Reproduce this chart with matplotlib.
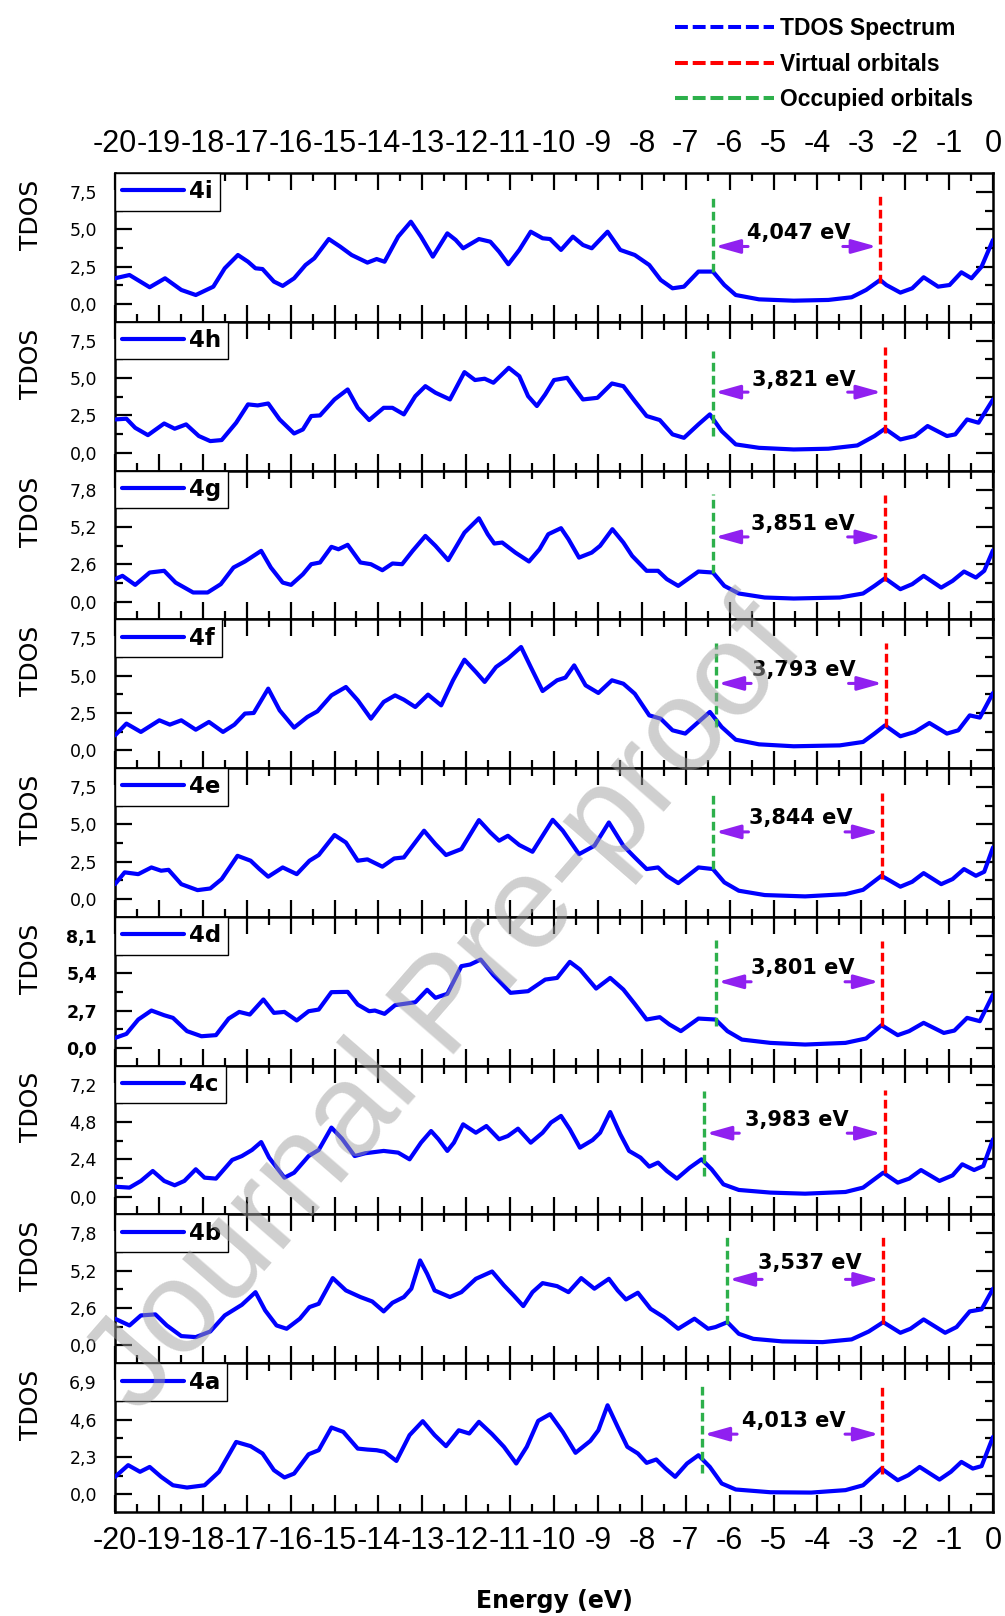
import matplotlib
matplotlib.use('Agg')
import matplotlib.pyplot as plt
from matplotlib.lines import Line2D
import numpy as np

plt.rcParams['axes.unicode_minus'] = False
plt.rcParams['font.family'] = 'DejaVu Sans'

# panel names, top to bottom
names = ['4i', '4h', '4g', '4f', '4e', '4d', '4c', '4b', '4a']
# major y tick step of each panel
steps = [2.5, 2.5, 2.6, 2.5, 2.5, 2.7, 2.4, 2.6, 2.3]
gap_labels = ['4,047 eV', '3,821 eV', '3,851 eV', '3,793 eV', '3,844 eV',
              '3,801 eV', '3,983 eV', '3,537 eV', '4,013 eV']

# (energy eV, TDOS)
curve_4i = [(-20, 1.72), (-19.67, 1.94), (-19.21, 1.12), (-18.86, 1.72), (-18.49, 0.94), (-18.16, 0.60),
            (-17.76, 1.16), (-17.5, 2.39), (-17.2, 3.28), (-16.97, 2.83), (-16.8, 2.39), (-16.64, 2.34),
            (-16.38, 1.50), (-16.18, 1.21), (-15.92, 1.72), (-15.66, 2.61), (-15.46, 3.06), (-15.13, 4.35),
            (-14.87, 3.84), (-14.61, 3.28), (-14.25, 2.77), (-14.04, 3.01), (-13.86, 2.83), (-13.55, 4.51),
            (-13.26, 5.51), (-13.03, 4.51), (-12.76, 3.17), (-12.43, 4.73), (-12.24, 4.29), (-12.07, 3.73),
            (-11.71, 4.35), (-11.45, 4.17), (-11.25, 3.50), (-11.04, 2.66), (-10.79, 3.62), (-10.53, 4.84),
            (-10.26, 4.40), (-10.09, 4.35), (-9.84, 3.62), (-9.57, 4.51), (-9.34, 3.95), (-9.14, 3.73),
            (-8.78, 4.84), (-8.49, 3.62), (-8.16, 3.28), (-7.83, 2.61), (-7.57, 1.61), (-7.30, 1.05),
            (-7.04, 1.16), (-6.71, 2.17), (-6.38, 2.17), (-6.12, 1.27), (-5.86, 0.60), (-5.33, 0.31),
            (-4.54, 0.22), (-3.75, 0.27), (-3.22, 0.45), (-2.89, 0.94), (-2.57, 1.61), (-2.43, 1.27),
            (-2.11, 0.76), (-1.84, 1.05), (-1.58, 1.79), (-1.25, 1.16), (-0.99, 1.27), (-0.72, 2.12),
            (-0.49, 1.72), (-0.26, 2.50), (0.0, 4.29)]
curve_4h = [(-20, 2.23), (-19.74, 2.28), (-19.54, 1.67), (-19.25, 1.18), (-18.88, 1.96), (-18.64, 1.61),
            (-18.38, 1.90), (-18.09, 1.12), (-17.83, 0.78), (-17.57, 0.85), (-17.24, 2.01), (-16.97, 3.24),
            (-16.75, 3.17), (-16.51, 3.30), (-16.25, 2.23), (-15.92, 1.29), (-15.72, 1.56), (-15.53, 2.46),
            (-15.33, 2.50), (-15.0, 3.57), (-14.70, 4.24), (-14.47, 3.01), (-14.21, 2.19), (-13.88, 3.01),
            (-13.68, 3.01), (-13.42, 2.57), (-13.16, 3.79), (-12.93, 4.46), (-12.70, 4.02), (-12.37, 3.57),
            (-12.04, 5.40), (-11.80, 4.87), (-11.58, 4.96), (-11.38, 4.69), (-11.03, 5.69), (-10.79, 5.13),
            (-10.59, 3.79), (-10.39, 3.13), (-10.20, 3.91), (-10.0, 4.87), (-9.70, 5.02), (-9.54, 4.35),
            (-9.34, 3.57), (-9.01, 3.68), (-8.68, 4.64), (-8.42, 4.46), (-8.16, 3.46), (-7.89, 2.46),
            (-7.59, 2.19), (-7.30, 1.23), (-7.04, 1.00), (-6.71, 1.90), (-6.45, 2.57), (-6.18, 1.45),
            (-5.86, 0.56), (-5.33, 0.33), (-4.54, 0.22), (-3.75, 0.27), (-3.09, 0.49), (-2.70, 1.12),
            (-2.46, 1.61), (-2.11, 0.89), (-1.78, 1.12), (-1.49, 1.79), (-1.05, 1.12), (-0.86, 1.23),
            (-0.59, 2.23), (-0.33, 2.01), (0.0, 3.57)]
curve_4g = [(-20, 1.56), (-19.83, 1.79), (-19.54, 1.16), (-19.21, 2.02), (-18.88, 2.14), (-18.62, 1.32),
            (-18.22, 0.63), (-17.89, 0.63), (-17.59, 1.21), (-17.30, 2.37), (-17.04, 2.79), (-16.67, 3.53),
            (-16.45, 2.37), (-16.18, 1.32), (-15.99, 1.16), (-15.72, 1.90), (-15.53, 2.60), (-15.33, 2.72),
            (-15.07, 3.81), (-14.91, 3.64), (-14.70, 3.95), (-14.41, 2.72), (-14.17, 2.60), (-13.91, 2.18),
            (-13.68, 2.65), (-13.46, 2.60), (-13.22, 3.53), (-12.93, 4.57), (-12.70, 3.88), (-12.41, 2.88),
            (-12.04, 4.80), (-11.71, 5.80), (-11.51, 4.69), (-11.36, 4.04), (-11.18, 4.11), (-10.88, 3.41),
            (-10.57, 2.79), (-10.33, 3.64), (-10.13, 4.69), (-9.84, 5.11), (-9.67, 4.34), (-9.43, 3.06),
            (-9.14, 3.41), (-8.95, 3.88), (-8.67, 5.04), (-8.42, 4.11), (-8.22, 3.18), (-7.89, 2.14),
            (-7.63, 2.14), (-7.43, 1.56), (-7.17, 1.09), (-6.71, 2.09), (-6.38, 2.02), (-6.12, 1.09),
            (-5.79, 0.56), (-5.20, 0.28), (-4.54, 0.21), (-3.49, 0.28), (-2.96, 0.56), (-2.70, 1.09),
            (-2.46, 1.62), (-2.11, 0.86), (-1.84, 1.21), (-1.58, 1.79), (-1.18, 0.97), (-0.92, 1.44),
            (-0.66, 2.09), (-0.39, 1.67), (-0.20, 2.14), (0.0, 3.57)]
curve_4f = [(-20, 1.00), (-19.74, 1.79), (-19.41, 1.23), (-18.99, 2.01), (-18.75, 1.72), (-18.49, 2.01),
            (-18.16, 1.38), (-17.86, 1.90), (-17.54, 1.23), (-17.28, 1.72), (-17.04, 2.46), (-16.84, 2.50),
            (-16.51, 4.13), (-16.25, 2.68), (-15.92, 1.52), (-15.62, 2.23), (-15.39, 2.61), (-15.07, 3.68),
            (-14.74, 4.24), (-14.47, 3.35), (-14.17, 2.12), (-13.88, 3.24), (-13.62, 3.68), (-13.42, 3.39),
            (-13.16, 2.90), (-12.87, 3.73), (-12.57, 3.01), (-12.30, 4.69), (-12.04, 6.07), (-11.78, 5.25),
            (-11.58, 4.58), (-11.32, 5.58), (-11.05, 6.14), (-10.75, 6.92), (-10.53, 5.58), (-10.26, 3.97),
            (-9.93, 4.69), (-9.74, 4.87), (-9.54, 5.69), (-9.28, 4.35), (-8.99, 3.84), (-8.68, 4.69),
            (-8.42, 4.46), (-8.16, 3.79), (-7.83, 2.34), (-7.57, 2.12), (-7.30, 1.34), (-7.01, 1.12),
            (-6.71, 1.90), (-6.45, 2.57), (-6.18, 1.56), (-5.86, 0.71), (-5.33, 0.40), (-4.54, 0.27),
            (-3.49, 0.33), (-2.96, 0.56), (-2.70, 1.12), (-2.46, 1.67), (-2.11, 0.94), (-1.78, 1.23),
            (-1.45, 1.83), (-1.05, 1.12), (-0.79, 1.34), (-0.53, 2.34), (-0.30, 2.19), (0.0, 3.84)]
curve_4e = [(-20, 1.00), (-19.78, 1.79), (-19.47, 1.67), (-19.17, 2.12), (-18.95, 1.90), (-18.78, 1.96),
            (-18.49, 1.00), (-18.12, 0.60), (-17.83, 0.71), (-17.57, 1.34), (-17.21, 2.90), (-16.91, 2.57),
            (-16.71, 2.01), (-16.51, 1.50), (-16.18, 2.12), (-15.86, 1.67), (-15.57, 2.57), (-15.36, 2.95),
            (-15.0, 4.29), (-14.74, 3.79), (-14.47, 2.57), (-14.25, 2.66), (-13.91, 2.17), (-13.64, 2.72),
            (-13.42, 2.79), (-12.96, 4.58), (-12.70, 3.68), (-12.46, 2.95), (-12.11, 3.35), (-11.71, 5.29),
            (-11.45, 4.46), (-11.25, 3.91), (-11.05, 4.24), (-10.79, 3.62), (-10.49, 3.17), (-10.26, 4.24),
            (-10.03, 5.31), (-9.80, 4.58), (-9.43, 3.01), (-9.08, 3.57), (-8.75, 5.13), (-8.42, 3.57),
            (-8.16, 2.79), (-7.89, 2.01), (-7.63, 2.12), (-7.43, 1.56), (-7.17, 1.07), (-6.71, 2.12),
            (-6.38, 2.01), (-6.12, 1.12), (-5.79, 0.56), (-5.20, 0.27), (-4.28, 0.18), (-3.36, 0.33),
            (-2.96, 0.62), (-2.54, 1.56), (-2.11, 0.83), (-1.84, 1.16), (-1.58, 1.74), (-1.18, 1.00),
            (-0.92, 1.34), (-0.66, 2.01), (-0.39, 1.56), (-0.20, 1.83), (0.0, 3.46)]
curve_4d = [(-20, 0.72), (-19.74, 1.01), (-19.47, 2.05), (-19.17, 2.70), (-18.88, 2.36), (-18.68, 2.17),
            (-18.36, 1.21), (-18.03, 0.84), (-17.70, 0.92), (-17.41, 2.12), (-17.17, 2.60), (-16.93, 2.41),
            (-16.62, 3.50), (-16.38, 2.53), (-16.14, 2.60), (-15.86, 1.98), (-15.59, 2.65), (-15.36, 2.77),
            (-15.07, 4.03), (-14.70, 4.05), (-14.47, 3.13), (-14.21, 2.65), (-14.08, 2.70), (-13.86, 2.46),
            (-13.62, 3.09), (-13.16, 3.30), (-12.89, 4.20), (-12.70, 3.62), (-12.43, 3.91), (-12.11, 5.91),
            (-11.91, 6.03), (-11.67, 6.39), (-11.38, 5.26), (-10.99, 3.98), (-10.59, 4.10), (-10.20, 4.94),
            (-9.93, 5.06), (-9.64, 6.22), (-9.41, 5.67), (-9.04, 4.29), (-8.72, 5.06), (-8.42, 4.22),
            (-8.16, 3.18), (-7.89, 2.05), (-7.59, 2.22), (-7.37, 1.69), (-7.11, 1.21), (-6.71, 2.12),
            (-6.32, 2.05), (-6.05, 1.21), (-5.72, 0.60), (-5.07, 0.36), (-4.28, 0.24), (-3.36, 0.36),
            (-2.89, 0.68), (-2.54, 1.64), (-2.17, 0.92), (-1.91, 1.21), (-1.58, 1.81), (-1.12, 1.08),
            (-0.88, 1.25), (-0.59, 2.17), (-0.30, 1.93), (0.0, 3.86)]
curve_4c = [(-20, 0.64), (-19.67, 0.58), (-19.41, 1.01), (-19.14, 1.65), (-18.88, 1.01), (-18.64, 0.73),
            (-18.42, 1.01), (-18.16, 1.76), (-17.96, 1.22), (-17.70, 1.16), (-17.33, 2.36), (-17.11, 2.61),
            (-16.88, 3.00), (-16.67, 3.51), (-16.49, 2.51), (-16.14, 1.22), (-15.92, 1.54), (-15.59, 2.61),
            (-15.36, 3.00), (-15.07, 4.44), (-14.83, 3.73), (-14.54, 2.61), (-14.30, 2.79), (-13.88, 2.94),
            (-13.55, 2.83), (-13.29, 2.40), (-13.03, 3.47), (-12.80, 4.22), (-12.63, 3.69), (-12.43, 2.94),
            (-12.28, 3.47), (-12.07, 4.65), (-11.78, 4.11), (-11.54, 4.54), (-11.25, 3.69), (-11.05, 3.90),
            (-10.82, 4.37), (-10.53, 3.47), (-10.26, 4.11), (-10.07, 4.76), (-9.84, 5.19), (-9.64, 4.33),
            (-9.41, 3.15), (-9.12, 3.64), (-8.95, 4.11), (-8.72, 5.44), (-8.49, 4.01), (-8.29, 2.94),
            (-8.03, 2.51), (-7.83, 1.93), (-7.63, 2.19), (-7.43, 1.65), (-7.20, 1.16), (-6.91, 1.86),
            (-6.64, 2.40), (-6.41, 1.76), (-6.14, 0.79), (-5.79, 0.43), (-5.07, 0.26), (-4.28, 0.19),
            (-3.36, 0.30), (-2.96, 0.58), (-2.50, 1.54), (-2.17, 0.90), (-1.91, 1.16), (-1.64, 1.71),
            (-1.22, 1.01), (-0.92, 1.37), (-0.70, 2.08), (-0.43, 1.71), (-0.22, 1.97), (0.0, 3.69)]
curve_4b = [(-20, 1.86), (-19.67, 1.39), (-19.41, 2.09), (-19.08, 2.16), (-18.82, 1.39), (-18.49, 0.65),
            (-18.16, 0.58), (-17.83, 0.97), (-17.50, 2.09), (-17.11, 2.83), (-16.80, 3.71), (-16.58, 2.44),
            (-16.32, 1.39), (-16.09, 1.16), (-15.79, 1.86), (-15.57, 2.67), (-15.36, 2.90), (-15.04, 4.69),
            (-14.74, 3.83), (-14.41, 3.37), (-14.14, 3.06), (-13.88, 2.37), (-13.68, 2.97), (-13.42, 3.37),
            (-13.25, 3.95), (-13.05, 5.92), (-12.89, 4.99), (-12.72, 3.83), (-12.37, 3.37), (-12.11, 3.71),
            (-11.78, 4.64), (-11.41, 5.15), (-11.14, 4.18), (-10.92, 3.48), (-10.70, 2.74), (-10.49, 3.71),
            (-10.26, 4.34), (-9.93, 4.13), (-9.67, 3.71), (-9.38, 4.69), (-9.08, 3.95), (-8.75, 4.64),
            (-8.55, 3.83), (-8.36, 3.20), (-8.09, 3.67), (-7.80, 2.55), (-7.50, 1.97), (-7.17, 1.16),
            (-6.80, 1.86), (-6.49, 1.16), (-6.32, 1.28), (-6.05, 1.62), (-5.79, 0.81), (-5.46, 0.46),
            (-4.80, 0.28), (-3.88, 0.23), (-3.22, 0.42), (-2.83, 0.97), (-2.50, 1.62), (-2.11, 0.88),
            (-1.88, 1.16), (-1.58, 1.81), (-1.09, 0.88), (-0.83, 1.28), (-0.53, 2.37), (-0.26, 2.51),
            (0.0, 3.95)]
curve_4a = [(-20, 1.07), (-19.70, 1.79), (-19.43, 1.38), (-19.21, 1.68), (-18.95, 1.07), (-18.68, 0.55),
            (-18.36, 0.41), (-17.96, 0.55), (-17.63, 1.38), (-17.24, 3.22), (-16.91, 2.96), (-16.64, 2.51),
            (-16.38, 1.48), (-16.14, 1.03), (-15.92, 1.27), (-15.59, 2.46), (-15.36, 2.71), (-15.07, 4.11),
            (-14.80, 3.84), (-14.47, 2.81), (-14.25, 2.75), (-14.04, 2.71), (-13.86, 2.61), (-13.59, 2.05),
            (-13.29, 3.64), (-12.99, 4.50), (-12.72, 3.64), (-12.46, 2.96), (-12.17, 3.94), (-11.93, 3.74),
            (-11.71, 4.46), (-11.41, 3.70), (-11.14, 2.92), (-10.86, 1.89), (-10.62, 2.92), (-10.36, 4.52),
            (-10.09, 4.93), (-9.80, 3.84), (-9.51, 2.55), (-9.17, 3.29), (-8.99, 3.94), (-8.78, 5.48),
            (-8.55, 4.15), (-8.33, 2.92), (-8.09, 2.51), (-7.89, 1.93), (-7.67, 2.14), (-7.46, 1.58),
            (-7.24, 1.07), (-6.97, 1.89), (-6.71, 2.40), (-6.45, 1.68), (-6.18, 0.66), (-5.86, 0.29),
            (-5.07, 0.12), (-4.14, 0.10), (-3.36, 0.25), (-2.96, 0.55), (-2.54, 1.58), (-2.17, 0.86),
            (-1.93, 1.17), (-1.67, 1.68), (-1.22, 0.90), (-0.96, 1.38), (-0.72, 1.99), (-0.46, 1.58),
            (-0.26, 1.73), (0.0, 3.53)]
curves = [curve_4i, curve_4h, curve_4g, curve_4f, curve_4e, curve_4d, curve_4c, curve_4b, curve_4a]

# occupied (green) and virtual (red) orbital markers, eV
homo = [-6.38, -6.38, -6.38, -6.31, -6.37, -6.31, -6.58, -6.06, -6.63]
lumo = [-2.57, -2.46, -2.46, -2.44, -2.52, -2.52, -2.47, -2.51, -2.52]
green_top = [7.2, 6.8, 7.5, 7.2, 7.25, 7.8, 6.8, 7.55, 6.65]
green_bot = [2.17, 1.12, 2.02, 1.56, 2.01, 1.57, 1.33, 1.51, 1.31]
red_top = [7.2, 7.1, 7.45, 7.2, 7.1, 7.75, 6.85, 7.55, 6.6]
red_bot = [1.43, 1.34, 1.44, 1.56, 1.34, 1.57, 1.54, 1.51, 1.27]
# gap annotation positions
arrow_y = [3.85, 4.06, 4.50, 4.48, 4.50, 4.78, 4.08, 4.60, 3.70]
text_y = [4.73, 4.88, 5.38, 5.35, 5.40, 5.78, 4.92, 5.72, 4.51]
text_x = [-4.42, -4.30, -4.34, -4.30, -4.38, -4.34, -4.47, -4.17, -4.54]

blue = '#0000FF'
red = '#FF0000'
green = '#2DB04B'
purple = '#9020F0'
arial = ['Liberation Sans', 'DejaVu Sans']

fig = plt.figure(figsize=(10.05, 16.16), dpi=100)
W, H = 1005.0, 1616.0
left = 115 / W
width = 878 / W
top = 1 - 173 / H
h = (1512 - 173) / 9 / H

for i, name in enumerate(names):
    ax = fig.add_axes([left, top - (i + 1) * h, width, h])
    e, v = np.array(curves[i]).T
    s = steps[i]
    ax.plot(e, v, color=blue, lw=3.0, label=name, solid_joinstyle='round',
            solid_capstyle='round', zorder=3)

    ax.plot([homo[i], homo[i]], [green_bot[i], green_top[i]], color=green, lw=2.4,
            dashes=(2.6, 1.3), zorder=4)
    ax.plot([lumo[i], lumo[i]], [red_bot[i], red_top[i]], color=red, lw=2.4,
            dashes=(2.6, 1.3), zorder=4)

    ap = dict(arrowstyle='-|>,head_length=1.5,head_width=0.42', lw=2.2, color=purple,
              shrinkA=0, shrinkB=0)
    ax.annotate('', xy=(homo[i] + 0.05, arrow_y[i]), xytext=(homo[i] + 0.8, arrow_y[i]), arrowprops=ap)
    ax.annotate('', xy=(lumo[i] - 0.08, arrow_y[i]), xytext=(lumo[i] - 0.85, arrow_y[i]), arrowprops=ap)
    ax.text(text_x[i], text_y[i], gap_labels[i], ha='center', va='center',
            fontsize=15, fontweight='bold', zorder=5)

    ax.set_xlim(-20, 0)
    ax.set_ylim(-0.477 * s, 3.509 * s)
    yt = [0, s, 2 * s, 3 * s]
    ax.set_yticks(yt)
    ax.set_yticklabels([('%.1f' % t).replace('.', ',') for t in yt])
    ax.set_yticks([0.5 * s, 1.5 * s, 2.5 * s], minor=True)
    ax.set_xticks(range(-20, 1))
    ax.set_xticks(np.arange(-19.5, 0, 1), minor=True)

    ax.tick_params(which='both', direction='in', top=True, right=True, width=1.6)
    ax.tick_params(which='major', length=12)
    ax.tick_params(which='minor', length=6)
    ax.tick_params(axis='y', pad=13, labelsize=12.5)
    ax.tick_params(axis='x', pad=10, labelsize=22, labelbottom=(i == 8), labeltop=(i == 0))
    for lab in ax.get_xticklabels():
        lab.set_family(arial)
    if name == '4d':
        for lab in ax.get_yticklabels():
            lab.set_fontweight('bold')
    for sp in ax.spines.values():
        sp.set_linewidth(1.8)

    ax.set_ylabel('TDOS', fontsize=18)
    ax.yaxis.set_label_coords(-0.082, 0.72)

    leg = ax.legend(loc='upper left', borderaxespad=0, borderpad=0.32, handlelength=2.7,
                    handletextpad=0.2, fancybox=False, edgecolor='black', framealpha=1,
                    prop=dict(weight='bold', size=16.5))
    leg.get_frame().set_linewidth(1.0)

fig.text(554 / W, 1 - 1601 / H, 'Energy (eV)', ha='center', va='center',
         fontsize=17, fontweight='bold')

handles = [Line2D([], [], color=blue, lw=2.9, dashes=(3.2, 1.2)),
           Line2D([], [], color=red, lw=2.9, dashes=(3.2, 1.2)),
           Line2D([], [], color=green, lw=2.9, dashes=(3.2, 1.2))]
fig.legend(handles, ['TDOS Spectrum', 'Virtual orbitals', 'Occupied orbitals'],
           loc='upper left', bbox_to_anchor=(675 / W, 1 - 17 / H), frameon=False,
           borderpad=0, borderaxespad=0, handlelength=4.3, handletextpad=0.3,
           labelspacing=0.55, prop=dict(family=arial, weight='bold', size=16.5))

# watermark
fig.text(0.445, 0.376, 'Journal Pre-proof', rotation=49, fontsize=95, family=arial,
         color='#A0A0A0', alpha=0.5, ha='center', va='center', zorder=10)

fig.savefig('out.png', dpi=100)
